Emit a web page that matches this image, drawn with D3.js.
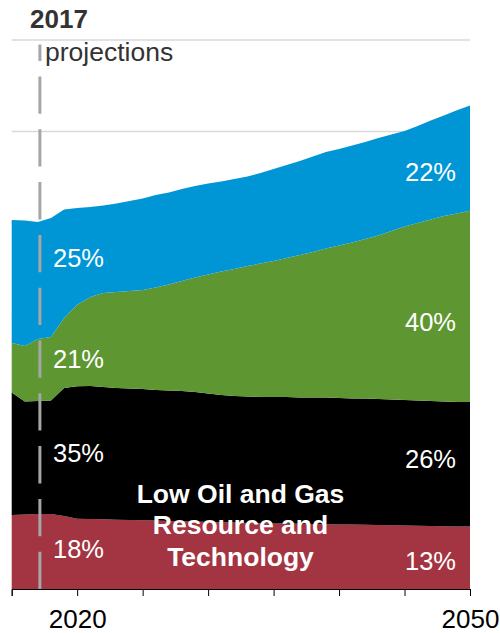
<!DOCTYPE html>
<html>
<head>
<meta charset="utf-8">
<script src="https://cdn.jsdelivr.net/npm/d3@7"></script>
<style>
  html, body { margin: 0; padding: 0; background: #fff; }
  svg { display: block; }
  text { font-family: "Liberation Sans", Arial, Helvetica, sans-serif; }
</style>
</head>
<body>
<svg id="chart" width="500" height="633"></svg>
<script>
// Electricity generation by fuel, Low Oil and Gas Resource and Technology case
// (billion kilowatthours), 2015-2050
const years = [2015, 2016, 2017, 2018, 2019, 2020, 2021, 2022, 2023, 2024,
               2025, 2026, 2027, 2028, 2029, 2030, 2031, 2032, 2033, 2034,
               2035, 2036, 2037, 2038, 2039, 2040, 2041, 2042, 2043, 2044,
               2045, 2046, 2047, 2048, 2049, 2050];

const nuclear = [809, 814, 820, 820, 798, 768, 765, 762, 758, 754,
                 751, 748, 743, 740, 737, 732, 729, 726, 721, 719,
                 717, 715, 713, 710, 708, 706, 704, 702, 699, 696,
                 693, 691, 689, 686, 684, 683];

const coal = [1339, 1235, 1235, 1240, 1399, 1447, 1454, 1446, 1438, 1437,
              1435, 1427, 1426, 1424, 1416, 1404, 1391, 1384, 1383, 1379,
              1381, 1384, 1380, 1383, 1385, 1381, 1378, 1380, 1377, 1375,
              1373, 1369, 1366, 1363, 1360, 1361];

const renewables = [541, 607, 678, 694, 765, 891, 973, 1027, 1049, 1066,
                    1082, 1120, 1158, 1202, 1251, 1301, 1350, 1388, 1426, 1459,
                    1486, 1519, 1557, 1590, 1628, 1667, 1705, 1743, 1787, 1842,
                    1896, 1940, 1984, 2027, 2060, 2090];

const naturalGas = [1344, 1372, 1279, 1301, 1186, 1058, 984, 956, 967, 984,
                    1000, 1011, 1005, 1005, 1000, 995, 984, 984, 978, 989,
                    1005, 1016, 1027, 1044, 1055, 1055, 1060, 1060, 1066, 1055,
                    1044, 1060, 1082, 1098, 1128, 1150];

const seriesKeys = ["nuclear", "coal", "renewables", "naturalGas"];
const seriesColors = ["#a33441", "#000000", "#5e9732", "#0096d6"];

const yTicks = [0, 1000, 2000, 3000, 4000, 5000, 6000];
const xTicks = [2015, 2020, 2025, 2030, 2035, 2040, 2045, 2050];
const xTickLabels = ["", "2020", "", "", "", "", "", "2050"];

const projectionYear = 2017;
const shareYears = [2020, 2050];
const caseTitle = ["Low Oil and Gas", "Resource and", "Technology"];

// ---- table for the stack ----
const table = years.map((yr, i) => ({
  year: yr,
  nuclear: nuclear[i],
  coal: coal[i],
  renewables: renewables[i],
  naturalGas: naturalGas[i]
}));

const svg = d3.select("#chart");

const x = d3.scaleLinear().domain([2015, 2050]).range([11.7, 470]);
const y = d3.scaleLinear().domain([0, 6000]).range([589, 40]);

// gridlines (drawn beneath the areas)
svg.append("g")
  .selectAll("line")
  .data(yTicks.slice(1))
  .join("line")
  .attr("x1", x.range()[0])
  .attr("x2", x.range()[1])
  .attr("y1", d => y(d))
  .attr("y2", d => y(d))
  .attr("stroke", "#d9d9d9")
  .attr("stroke-width", 1.5);

// stacked areas
const stack = d3.stack().keys(seriesKeys);
const layers = stack(table);

const area = d3.area()
  .x(d => x(d.data.year))
  .y0(d => y(d[0]))
  .y1(d => y(d[1]))
  .curve(d3.curveLinear);

svg.append("g")
  .selectAll("path")
  .data(layers)
  .join("path")
  .attr("fill", (d, i) => seriesColors[i])
  .attr("d", area);

// x axis
const xAxis = d3.axisBottom(x)
  .tickValues(xTicks)
  .tickSize(7)
  .tickFormat((d, i) => xTickLabels[i]);

const gx = svg.append("g")
  .attr("transform", `translate(0,${y(0)})`)
  .call(xAxis);
gx.select(".domain").attr("stroke", "#000").attr("stroke-width", 1);
gx.selectAll(".tick line").attr("stroke", "#000").attr("stroke-width", 1);
gx.selectAll(".tick text")
  .attr("y", 39)
  .attr("dy", 0)
  .attr("fill", "#000")
  .style("font-size", "26px")
  .style("font-family", "\"Liberation Sans\", Arial, sans-serif");

// projection marker
svg.append("line")
  .attr("x1", x(projectionYear) + 2)
  .attr("x2", x(projectionYear) + 2)
  .attr("y1", y(0))
  .attr("y2", y(5950))
  .attr("stroke", "#a6a6a6")
  .attr("stroke-width", 3)
  .attr("stroke-dasharray", "37.3 15.5");

svg.append("text")
  .attr("x", 30)
  .attr("y", 28)
  .attr("fill", "#333")
  .style("font-size", "26px")
  .style("font-weight", "bold")
  .text(String(projectionYear));

svg.append("text")
  .attr("x", 45)
  .attr("y", 61)
  .attr("fill", "#333")
  .style("font-size", "26.5px")
  .text("projections");

// share labels, computed from the stacked values
function shares(yr) {
  const row = table.find(r => r.year === yr);
  const total = d3.sum(seriesKeys, k => row[k]);
  return seriesKeys.map(k => Math.round(100 * row[k] / total) + "%");
}

const leftShares = shares(shareYears[0]);
const rightShares = shares(shareYears[1]);
const leftBaselines = [558, 462, 367.5, 266.5];
const rightBaselines = [570, 468, 330.5, 180.5];

svg.append("g")
  .selectAll("text")
  .data(leftShares)
  .join("text")
  .attr("x", 53)
  .attr("y", (d, i) => leftBaselines[i])
  .attr("fill", "#fff")
  .style("font-size", "25.5px")
  .text(d => d);

svg.append("g")
  .selectAll("text")
  .data(rightShares)
  .join("text")
  .attr("x", 456)
  .attr("y", (d, i) => rightBaselines[i])
  .attr("text-anchor", "end")
  .attr("fill", "#fff")
  .style("font-size", "25.5px")
  .text(d => d);

// case title
svg.append("g")
  .selectAll("text")
  .data(caseTitle)
  .join("text")
  .attr("x", 240.5)
  .attr("y", (d, i) => 502.5 + i * 31.5)
  .attr("text-anchor", "middle")
  .attr("fill", "#fff")
  .style("font-size", "26.5px")
  .style("font-weight", "bold")
  .text(d => d);
</script>
</body>
</html>
